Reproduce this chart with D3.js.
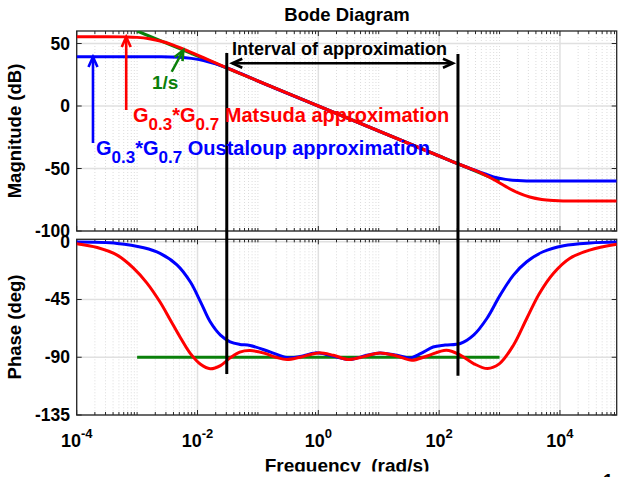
<!DOCTYPE html>
<html><head><meta charset="utf-8">
<script src="https://cdn.jsdelivr.net/npm/d3@7"></script>
<style>
body{margin:0;background:#fff}
svg{display:block}
text{font-family:"Liberation Sans",Arial,sans-serif;font-weight:bold}
</style>
</head><body>
<svg id="c" width="619" height="477"></svg>
<script>
// ---------- data ----------
const freqDomain = [1e-4, 87000];
const magDomain = [-100, 60];
const phaseDomain = [-135, 1.9];
const xTickExps = [-4, -2, 0, 2, 4];
const magTicks = [50, 0, -50, -100];
const phaseTicks = [0, -45, -90, -135];

// Matsuda approximation (red): log10(w) and magnitude in dB
const matsudaMagLogW = [-4, -3.5, -3.2, -3.0, -2.8, -2.6, -2.4, -2.2, -2.0, -1.8, -1.6, -1.4, -1.2, -1.0, 0, 1, 2, 2.3, 2.5, 2.7, 2.9, 3.1, 3.3, 3.5, 3.7, 3.9, 4.2, 4.94];
const matsudaMagDb   = [55.5, 55.5, 55.3, 54.9, 53.8, 51.8, 48.7, 44.9, 40.7, 36.5, 32.3, 28.2, 24.1, 20, 0, -20, -40, -46, -49.7, -53.7, -58.8, -64.3, -69.3, -72.8, -74.8, -75.6, -76, -76];
// Oustaloup approximation (blue)
const oustaloupMagLogW = [-4, -2.6, -2.3, -2.1, -1.9, -1.7, -1.5, -1.3, -1.0, 0, 1, 2, 2.3, 2.5, 2.7, 2.9, 3.1, 3.3, 3.6, 4.94];
const oustaloupMagDb   = [39.5, 39.4, 39.0, 38.1, 36.4, 33.7, 30.3, 26.3, 20, 0, -20, -40, -46, -49.8, -53.3, -56.7, -58.7, -59.6, -60, -60];
// ideal 1/s
const idealLogW = [-3, 3];
const idealMagDb = [60, -60];
const idealPhaseDeg = [-90, -90];

// phases
const matsudaPhaseLogW = [-4, -3.66, -3.33, -3.06, -2.84, -2.62, -2.45, -2.28, -2.12, -1.95, -1.79, -1.62, -1.46, -1.3, -1.13, -0.9, -0.7, -0.52, -0.3, 0.0, 0.25, 0.5, 0.75, 1.02, 1.3, 1.55, 1.8, 2.12, 2.35, 2.57, 2.8, 3.0, 3.23, 3.45, 3.66, 3.89, 4.16, 4.49, 4.94];
const matsudaPhaseDeg  = [-1.5, -4.5, -10.4, -20.5, -32, -47, -61, -75, -87, -95.5, -99, -96.5, -90.5, -86, -84.8, -86.8, -90, -91.8, -90, -86.6, -88.5, -91.8, -89.5, -86.6, -89, -92.3, -89, -84.5, -88.3, -94.9, -98.8, -95, -80.6, -59.8, -40.3, -24.7, -13, -6.5, -2];
const oustaloupPhaseLogW = [-4, -3.33, -2.89, -2.62, -2.34, -2.12, -1.95, -1.79, -1.62, -1.46, -1.3, -1.13, -0.8, -0.52, -0.3, -0.05, 0.2, 0.5, 0.8, 1.02, 1.3, 1.52, 1.7, 1.9, 2.1, 2.35, 2.57, 2.79, 3.01, 3.23, 3.45, 3.72, 4.06, 4.5, 4.94];
const oustaloupPhaseDeg  = [-0.3, -1.3, -4.7, -9, -18, -31.2, -46.8, -62.4, -72.8, -78, -80, -80.8, -85.8, -90.2, -89.5, -86.6, -88.5, -91.8, -88.5, -86.6, -88.5, -90.5, -87, -82, -80.5, -79.3, -72.8, -59.8, -41.6, -26, -15.6, -7.8, -3.1, -1, -0.3];

// interval of approximation (rad/s)
const intervalBounds = [0.0305, 205];

// ---------- chart ----------
const svg = d3.select('#c');
const x = d3.scaleLog().domain(freqDomain).range([76.7, 616.7]);
const yM = d3.scaleLinear().domain(magDomain).range([231, 31]);
const yP = d3.scaleLinear().domain(phaseDomain).range([415, 239.3]);
const axisColor = '#262626';

const xTicksAll = [];
for (let k = -4; k <= 4; k++) for (let m = 1; m <= 9; m++) {
  const v = m * Math.pow(10, k);
  if (v >= freqDomain[0] && v <= freqDomain[1]) xTicksAll.push({v, major: (m === 1 && k % 2 === 0)});
}

function drawPanel(y, yTicks, id) {
  const yb = y.range()[0], yt = y.range()[1];
  const xl = x.range()[0], xr = x.range()[1];
  const g = svg.append('g');
  svg.append('clipPath').attr('id', id).append('rect')
    .attr('x', xl).attr('y', yt).attr('width', xr - xl).attr('height', yb - yt);
  g.selectAll('.mg').data(xTicksAll.filter(d => !d.major)).enter().append('line')
    .attr('x1', d => x(d.v)).attr('x2', d => x(d.v)).attr('y1', yt).attr('y2', yb)
    .attr('stroke', '#dcdcdc').attr('stroke-width', 1).attr('stroke-dasharray', '1,2');
  g.selectAll('.Mg').data(xTicksAll.filter(d => d.major)).enter().append('line')
    .attr('x1', d => x(d.v)).attr('x2', d => x(d.v)).attr('y1', yt).attr('y2', yb)
    .attr('stroke', '#e0e0e0').attr('stroke-width', 1.5);
  g.selectAll('.hg').data(yTicks).enter().append('line')
    .attr('x1', xl).attr('x2', xr).attr('y1', d => y(d)).attr('y2', d => y(d))
    .attr('stroke', '#e0e0e0').attr('stroke-width', 1.5);
  g.append('rect').attr('x', xl).attr('y', yt).attr('width', xr - xl).attr('height', yb - yt)
    .attr('fill', 'none').attr('stroke', axisColor).attr('stroke-width', 1.3);
  xTicksAll.forEach(d => {
    const L = d.major ? 5 : 3;
    g.append('line').attr('x1', x(d.v)).attr('x2', x(d.v)).attr('y1', yb).attr('y2', yb - L)
      .attr('stroke', axisColor).attr('stroke-width', 1);
    g.append('line').attr('x1', x(d.v)).attr('x2', x(d.v)).attr('y1', yt).attr('y2', yt + L)
      .attr('stroke', axisColor).attr('stroke-width', 1);
  });
  yTicks.forEach(v => {
    g.append('line').attr('x1', xl).attr('x2', xl + 5).attr('y1', y(v)).attr('y2', y(v))
      .attr('stroke', axisColor).attr('stroke-width', 1);
    g.append('line').attr('x1', xr - 5).attr('x2', xr).attr('y1', y(v)).attr('y2', y(v))
      .attr('stroke', axisColor).attr('stroke-width', 1);
    g.append('text').attr('x', 70).attr('y', y(v) + 6).attr('text-anchor', 'end')
      .attr('font-size', 17.5).attr('fill', '#000').text(v);
  });
  return g;
}

drawPanel(yM, magTicks, 'clipM');
drawPanel(yP, phaseTicks, 'clipP');

const zip = (a, b) => a.map((v, i) => [v, b[i]]);
function curve(y, lw, vals, color, clip, crv) {
  const line = d3.line().x(d => x(Math.pow(10, d[0]))).y(d => y(d[1])).curve(crv);
  svg.append('path').attr('d', line(zip(lw, vals))).attr('fill', 'none')
    .attr('stroke', color).attr('stroke-width', 3).attr('clip-path', `url(#${clip})`)
    .attr('stroke-linejoin', 'round');
}
const mono = d3.curveMonotoneX, smooth = d3.curveCatmullRom.alpha(0.5);

curve(yM, idealLogW, idealMagDb, '#0a800a', 'clipM', mono);
curve(yM, oustaloupMagLogW, oustaloupMagDb, '#0000ff', 'clipM', mono);
curve(yM, matsudaMagLogW, matsudaMagDb, '#ff0000', 'clipM', mono);
curve(yP, idealLogW, idealPhaseDeg, '#0a800a', 'clipP', mono);
curve(yP, oustaloupPhaseLogW, oustaloupPhaseDeg, '#0000ff', 'clipP', smooth);
curve(yP, matsudaPhaseLogW, matsudaPhaseDeg, '#ff0000', 'clipP', smooth);

intervalBounds.forEach((f, i) => {
  svg.append('line').attr('x1', x(f)).attr('x2', x(f))
    .attr('y1', yM(i === 0 ? 42.4 : 41.6)).attr('y2', yP(i === 0 ? -103 : -104.5))
    .attr('stroke', '#000').attr('stroke-width', 3);
});

function chevron(tx, ty, angle, color, len, half) {
  const bx = tx - len * Math.cos(angle), by = ty - len * Math.sin(angle);
  const px = -Math.sin(angle) * half, py = Math.cos(angle) * half;
  svg.append('path').attr('d', `M${bx + px},${by + py}L${tx},${ty}L${bx - px},${by - py}`)
    .attr('fill', 'none').attr('stroke', color).attr('stroke-width', 2.6)
    .attr('stroke-linejoin', 'miter');
}
function arrow(x1, y1, x2, y2, color, both) {
  svg.append('line').attr('x1', x1).attr('y1', y1).attr('x2', x2).attr('y2', y2)
    .attr('stroke', color).attr('stroke-width', 2.6);
  const a = Math.atan2(y2 - y1, x2 - x1);
  chevron(x2, y2, a, color, 10, 4.5);
  if (both) chevron(x1, y1, a + Math.PI, color, 10, 4.5);
}

const arrowDb = 34.2;
arrow(x(intervalBounds[0]) + 5.5, yM(arrowDb), x(intervalBounds[1]) - 5, yM(arrowDb), '#000', true);
svg.append('text').attr('x', 232).attr('y', 55).attr('font-size', 18).attr('fill', '#000')
  .text('Interval of approximation');

arrow(x(6.6e-4), yM(-3.2), x(6.6e-4), yM(55.2), '#ff0000');
arrow(x(1.86e-4), yM(-29.6), x(1.86e-4), yM(39.2), '#0000ff');
arrow(x(Math.pow(10, -2.427)), yM(27.4), x(Math.pow(10, -2.235)), yM(44.6), '#0a800a');
svg.append('text').attr('x', 152).attr('y', 89).attr('font-size', 19).attr('fill', '#0a800a').text('1/s');

function gLabel(xp, yp, color, rest) {
  const t = svg.append('text').attr('x', xp).attr('y', yp).attr('fill', color).attr('font-size', 20);
  t.append('tspan').text('G');
  t.append('tspan').attr('dy', 8.5).attr('font-size', 17).text('0.3');
  t.append('tspan').attr('dy', -8.5).text('*G');
  t.append('tspan').attr('dy', 8.5).attr('font-size', 17).text('0.7');
  t.append('tspan').attr('dy', -8.5).text(' ' + rest);
}
gLabel(133, 121.5, '#ff0000', 'Matsuda approximation');
gLabel(96, 154.5, '#0000ff', 'Oustaloup approximation');

xTickExps.forEach(e => {
  const t = svg.append('text').attr('x', x(Math.pow(10, e))).attr('y', 447)
    .attr('text-anchor', 'middle').attr('font-size', 18).attr('fill', '#000');
  t.append('tspan').text('10');
  t.append('tspan').attr('dy', -9).attr('font-size', 13).text(e < 0 ? '-' + (-e) : String(e));
});

svg.append('text').attr('x', 347).attr('y', 21).attr('text-anchor', 'middle')
  .attr('font-size', 18.5).attr('fill', '#000').text('Bode Diagram');
svg.append('clipPath').attr('id', 'clipX').append('rect')
  .attr('x', 0).attr('y', 440).attr('width', 619).attr('height', 31.5);
svg.append('text').attr('x', 347).attr('y', 472).attr('text-anchor', 'middle')
  .attr('font-size', 19).attr('fill', '#000').attr('xml:space', 'preserve')
  .attr('clip-path', 'url(#clipX)').text('Frequency  (rad/s)');
svg.append('text').attr('transform', 'translate(21,131) rotate(-90)').attr('text-anchor', 'middle')
  .attr('font-size', 18.5).attr('fill', '#000').text('Magnitude (dB)');
svg.append('text').attr('transform', 'translate(21,327) rotate(-90)').attr('text-anchor', 'middle')
  .attr('font-size', 18.5).attr('fill', '#000').text('Phase (deg)');
svg.append('text').attr('x', 603).attr('y', 487).attr('font-size', 18).attr('fill', '#000').text('1');
</script>
</body></html>
